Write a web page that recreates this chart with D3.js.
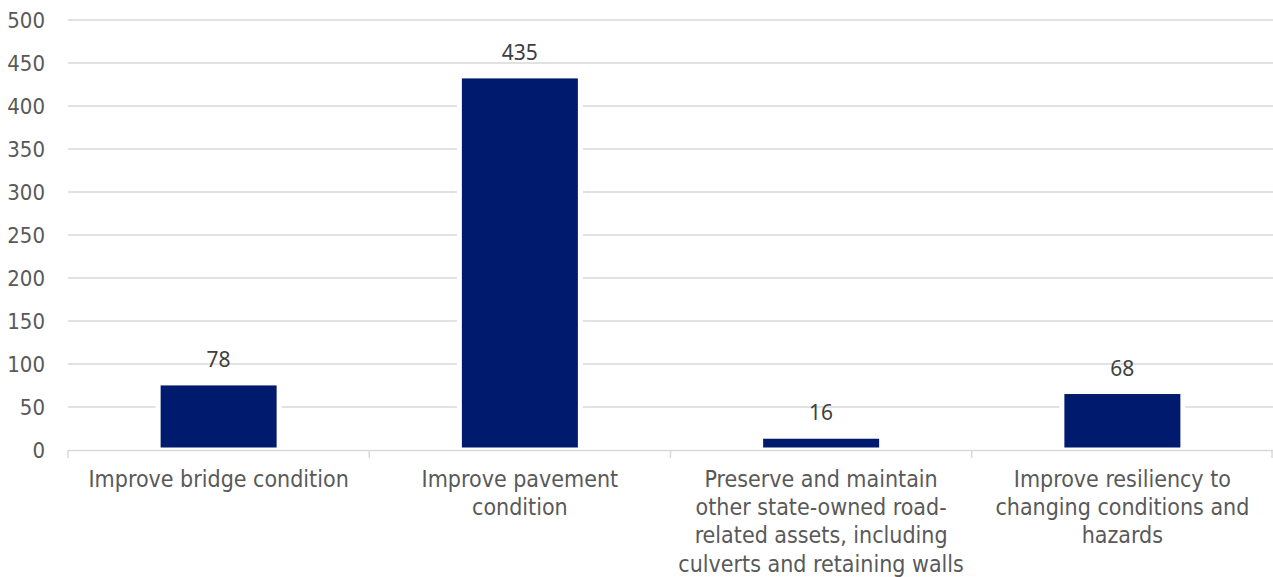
<!DOCTYPE html>
<html><head><meta charset="utf-8">
<script src="https://cdn.jsdelivr.net/npm/d3@7"></script>
<style>html,body{margin:0;padding:0;background:#fff;}svg{display:block;}</style>
</head><body>
<svg id="chart" width="1273" height="577"></svg>
<script>
const categories = [
  ["Improve bridge condition"],
  ["Improve pavement", "condition"],
  ["Preserve and maintain", "other state-owned road-", "related assets, including", "culverts and retaining walls"],
  ["Improve resiliency to", "changing conditions and", "hazards"]
];
const values = [78, 435, 16, 68];
const yTicks = [0, 50, 100, 150, 200, 250, 300, 350, 400, 450, 500];

const svg = d3.select("#chart");
const mLeft = 68, mRight = 1273, mTop = 20, mBottom = 450;
const keys = d3.range(values.length);
const xb = d3.scaleBand().domain(keys).range([mLeft, mRight]);
const y = d3.scaleLinear().domain([0, 500]).range([mBottom, mTop]);

// gridlines
svg.append("g").selectAll("line").data(yTicks.filter(d => d > 0)).join("line")
  .attr("x1", mLeft).attr("x2", mRight)
  .attr("y1", d => y(d)).attr("y2", d => y(d))
  .attr("stroke", "#d9d9d9").attr("stroke-width", 1.3);

// y tick labels
svg.append("g").selectAll("text").data(yTicks).join("text")
  .attr("x", 45).attr("y", d => y(d)).attr("dy", "0.36em")
  .attr("text-anchor", "end")
  .attr("font-family", "'DejaVu Sans Condensed','DejaVu Sans',sans-serif")
  .style("font-stretch", "condensed")
  .attr("font-size", 22).attr("fill", "#595959")
  .text(d => d);

// bars
const cx = i => xb(i) + xb.bandwidth() / 2;
svg.append("g").selectAll("rect").data(values).join("rect")
  .attr("x", (d, i) => cx(i) - 60.5)
  .attr("width", 121)
  .attr("y", d => y(d))
  .attr("height", d => y(0) - y(d))
  .attr("fill", "#001a6e")
  .attr("stroke", "#ffffff").attr("stroke-width", 5);

// x axis line and ticks
svg.append("line").attr("x1", mLeft).attr("x2", mRight).attr("y1", mBottom + 0.5).attr("y2", mBottom + 0.5)
  .attr("stroke", "#d9d9d9").attr("stroke-width", 1.5);
const bounds = keys.map(i => xb(i)).concat([mRight]);
svg.append("g").selectAll("line").data(bounds).join("line")
  .attr("x1", d => Math.min(d, mRight - 1)).attr("x2", d => Math.min(d, mRight - 1))
  .attr("y1", mBottom).attr("y2", mBottom + 8)
  .attr("stroke", "#d9d9d9").attr("stroke-width", 1.5);

// data labels
svg.append("g").selectAll("text").data(values).join("text")
  .attr("x", (d, i) => cx(i)).attr("y", d => y(d) - 16)
  .attr("text-anchor", "middle")
  .attr("font-family", "'Noto Sans','Open Sans',sans-serif")
  .attr("font-size", 21).attr("fill", "#404040")
  .text(d => d);

// category labels
const cat = svg.append("g").selectAll("text").data(categories).join("text")
  .attr("x", (d, i) => cx(i)).attr("y", 487)
  .attr("text-anchor", "middle")
  .attr("font-family", "'DejaVu Sans Condensed','DejaVu Sans',sans-serif")
  .style("font-stretch", "condensed")
  .attr("font-size", 23).attr("fill", "#595959");
cat.each(function(lines) {
  const t = d3.select(this);
  t.selectAll("tspan").data(lines).join("tspan")
    .attr("x", t.attr("x"))
    .attr("dy", (d, j) => j === 0 ? 0 : 28.2)
    .text(d => d);
});
</script>
</body></html>
